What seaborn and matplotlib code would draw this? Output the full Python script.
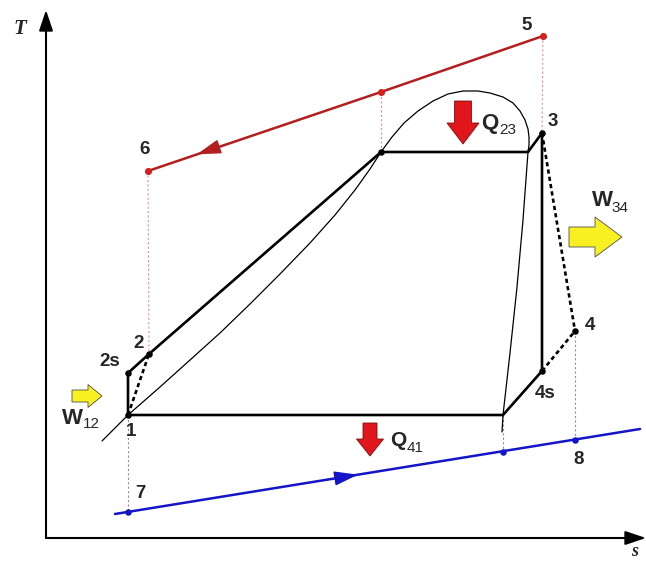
import numpy as np
import pandas as pd
import matplotlib
matplotlib.use("Agg")
import matplotlib.pyplot as plt
from matplotlib.patches import FancyArrow
import seaborn as sns

# ---- state points of the cycle (entropy s, temperature T), arbitrary units ----
state_labels = ["1", "2s", "2", "a", "b", "3", "4s", "c", "4"]
state_s = [82, 82, 103, 335, 482, 496, 496, 457, 529]
state_T = [123, 165, 184, 386, 386, 405, 167, 123, 207]

# saturation dome (liquid line, top, vapour line)
dome_s = [56, 82, 114, 144, 174, 204, 234, 264, 289, 309, 324, 335, 346, 358,
          372, 387, 402, 417, 432, 444, 457, 467, 474, 479, 482, 483, 483, 482,
          477, 471, 464, 457, 456]
dome_T = [97, 123, 151, 178, 205, 234, 264, 295, 323, 348, 369, 386, 401, 415,
          427, 437, 444, 447, 447, 445, 441, 435, 427, 418, 409, 401, 393, 386,
          318, 251, 185, 123, 106]

# heat source stream (5 -> 6) and cooling stream (7 -> 8)
hot_labels = ["5", "m", "6"]
hot_s = [497, 335, 102]
hot_T = [502, 446, 367]
cold_line_s = [69, 594]
cold_line_T = [24, 109]
cold_labels = ["7", "c'", "8"]
cold_s = [82, 457, 529]
cold_T = [26, 86, 98]

P = {k: (s, t) for k, s, t in zip(state_labels, state_s, state_T)}
H = {k: (s, t) for k, s, t in zip(hot_labels, hot_s, hot_T)}
C = {k: (s, t) for k, s, t in zip(cold_labels, cold_s, cold_T)}

sns.set_theme(style="white")
plt.rcParams["font.family"] = ["Liberation Sans", "DejaVu Sans"]

fig = plt.figure(figsize=(6.46, 5.65), dpi=100)
ax = fig.add_axes([0, 0, 1, 1])
ax.set_xlim(-46, 600)
ax.set_ylim(-27, 538)
ax.axis("off")

RED = "#b41e1e"
BLUE = "#1515c8"
PINK = "#e89090"
GREY = "#909090"


def line(keys, src, **kw):
    df = pd.DataFrame({"s": [src[k][0] for k in keys], "T": [src[k][1] for k in keys]})
    sns.lineplot(data=df, x="s", y="T", sort=False, estimator=None, ax=ax, **kw)


# projection guides
for top, bot, col in [(H["5"], P["3"], PINK), (H["m"], P["a"], PINK), (H["6"], P["2"], PINK),
                      (P["1"], C["7"], GREY), (P["4"], C["8"], GREY), (P["c"], C["c'"], GREY)]:
    df = pd.DataFrame({"s": [top[0], bot[0]], "T": [top[1], bot[1]]})
    sns.lineplot(data=df, x="s", y="T", sort=False, estimator=None, ax=ax,
                 color=col, lw=0.8, linestyle=(0, (2, 2)))

# saturation dome
sns.lineplot(x=dome_s, y=dome_T, sort=False, estimator=None, ax=ax, color="black", lw=0.9)

# cycle
line(["1", "2s", "2", "a", "b", "3", "4s", "c", "1"], P, color="black", lw=1.9)
line(["1", "2"], P, color="black", lw=1.9, linestyle=(0, (1.6, 1.2)))
line(["3", "4"], P, color="black", lw=1.9, linestyle=(0, (1.6, 1.2)))
line(["4s", "4"], P, color="black", lw=1.9, linestyle=(0, (1.6, 1.2)))

# heat source and sink streams
sns.lineplot(x=hot_s, y=hot_T, sort=False, estimator=None, ax=ax, color=RED, lw=1.8)
sns.lineplot(x=cold_line_s, y=cold_line_T, sort=False, estimator=None, ax=ax, color=BLUE, lw=1.8)


# flow direction arrowheads along the streams
def stream_arrow(p0, p1, f, df, color):
    tip = (p0[0] + f * (p1[0] - p0[0]), p0[1] + f * (p1[1] - p0[1]))
    tail = (p0[0] + (f - df) * (p1[0] - p0[0]), p0[1] + (f - df) * (p1[1] - p0[1]))
    ax.annotate("", xy=tip, xytext=tail,
                arrowprops=dict(arrowstyle="-|>,head_length=1.5,head_width=0.45",
                                color=color, lw=1, mutation_scale=10,
                                shrinkA=0, shrinkB=0))


stream_arrow(H["5"], H["6"], 0.876, 0.08, RED)
stream_arrow((cold_line_s[0], cold_line_T[0]), (cold_line_s[1], cold_line_T[1]), 0.463, 0.06, BLUE)

# state point markers
dots = ["1", "2s", "2", "a", "3", "4s", "4"]
sns.scatterplot(x=[P[k][0] for k in dots], y=[P[k][1] for k in dots], ax=ax,
                color="black", s=22, linewidth=0, zorder=5)
sns.scatterplot(x=hot_s, y=hot_T, ax=ax, color="#d42020", s=26, linewidth=0, zorder=5)
sns.scatterplot(x=cold_s, y=cold_T, ax=ax, color=BLUE, s=22, linewidth=0, zorder=5)

# T-s axes with arrowheads
for tip in [(0, 528), (600, 0)]:
    ax.annotate("", xy=tip, xytext=(0, 0),
                arrowprops=dict(arrowstyle="-|>,head_length=1.25,head_width=0.42",
                                color="black", lw=1.5, mutation_scale=10,
                                shrinkA=0, shrinkB=0))
ax.text(-26, 509, "T", fontsize=15, fontweight="bold", fontstyle="italic",
        family=["Liberation Serif"], ha="center", va="center")
ax.text(589, -14, "s", fontsize=13, fontweight="bold", fontstyle="italic",
        family=["Liberation Serif"], ha="center", va="center")

# point labels
label_pos = {"1": (85, 106), "2s": (64, 177), "2": (93, 194), "3": (507, 416),
             "4": (544, 213), "4s": (499, 145), "5": (481, 512), "6": (99, 388),
             "7": (94, 44), "8": (533, 79)}
for txt, (x, y) in label_pos.items():
    ax.text(x, y, txt, fontsize=13.5, fontweight="bold", ha="center", va="center")

# heat and work arrows
ARROW_RED = "#e0161c"
YELLOW = "#f8f020"
ax.add_patch(FancyArrow(417, 437, 0, -43, width=17, head_width=32, head_length=21,
                        length_includes_head=True, fc=ARROW_RED, ec="#7a1010", lw=0.6, zorder=6))
ax.add_patch(FancyArrow(324, 115, 0, -33, width=14, head_width=27, head_length=17,
                        length_includes_head=True, fc=ARROW_RED, ec="#7a1010", lw=0.6, zorder=6))
ax.add_patch(FancyArrow(523, 301, 53, 0, width=20, head_width=40, head_length=27,
                        length_includes_head=True, fc=YELLOW, ec="#505050", lw=0.6, zorder=6))
ax.add_patch(FancyArrow(26, 142, 30, 0, width=12, head_width=23, head_length=14,
                        length_includes_head=True, fc=YELLOW, ec="#505050", lw=0.6, zorder=6))


def sym(x, y, main, sub, dx, dy, size=16):
    ax.text(x, y, main, fontsize=size, fontweight="bold", ha="center", va="center")
    ax.text(x + dx, y + dy, sub, fontsize=11, ha="center", va="center")


sym(443.5, 414.5, "Q", "23", 18, -6.5)
sym(352, 98, "Q", "41", 17, -8, size=15)
sym(556, 337.5, "W", "34", 17.5, -7)
sym(26.5, 119.5, "W", "12", 18.5, -5)

fig.savefig("out.png", dpi=100)
